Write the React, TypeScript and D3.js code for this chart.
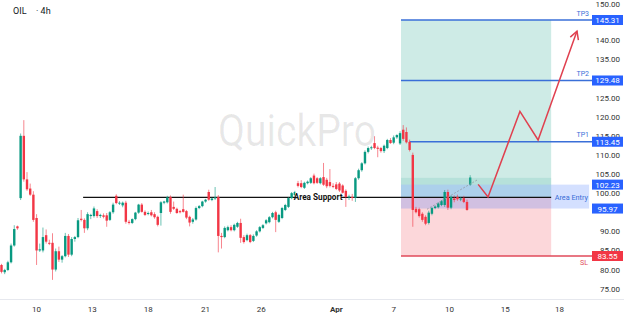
import React from 'react';
import * as d3 from 'd3';

// OHLC rows: [open, high, low, close], 4h bars
const candles: [number, number, number, number][] = [
  [81.2, 81.5, 79.0, 79.4], [79.3, 80.2, 78.8, 79.9], [79.9, 82.3, 79.6, 81.9], [81.9, 86.8, 81.6, 86.3],
  [86.3, 91.6, 86.0, 90.6], [91.3, 91.5, 90.4, 90.8], [98.7, 115.6, 98.2, 115.0], [115.0, 119.1, 103.0, 103.6],
  [103.6, 105.5, 100.6, 101.0], [101.2, 102.5, 99.3, 99.6], [99.6, 100.5, 92.5, 93.0], [93.5, 94.5, 81.2, 85.0],
  [85.0, 86.8, 84.6, 85.3], [85.0, 91.0, 84.5, 88.5], [89.0, 90.5, 86.8, 87.3], [87.0, 87.8, 86.4, 86.8],
  [87.0, 89.5, 77.3, 80.0], [80.0, 85.5, 79.5, 84.8], [84.8, 86.0, 82.0, 82.6], [82.6, 83.8, 81.8, 83.5],
  [83.5, 89.6, 83.2, 88.8], [88.8, 89.3, 83.3, 83.9], [83.9, 88.5, 83.5, 88.0], [88.0, 88.8, 87.3, 88.5],
  [88.5, 93.5, 88.2, 92.9], [93.3, 95.6, 92.6, 93.0], [93.0, 93.4, 89.6, 90.8], [90.8, 95.0, 90.3, 94.5],
  [94.0, 94.6, 93.2, 94.3], [94.0, 96.5, 93.6, 96.0], [95.3, 95.8, 93.5, 94.0], [94.0, 94.6, 93.5, 94.3],
  [94.2, 94.7, 93.4, 93.8], [94.2, 94.8, 91.2, 92.8], [93.0, 95.3, 92.7, 95.0], [95.0, 97.5, 94.6, 97.0],
  [99.3, 99.7, 97.1, 97.4], [97.4, 97.9, 96.9, 97.5], [96.8, 97.8, 96.3, 97.5], [97.5, 98.0, 92.0, 92.5],
  [92.5, 93.0, 91.8, 92.2], [92.2, 93.4, 91.9, 93.2], [93.2, 95.1, 92.9, 94.9], [94.9, 97.2, 94.6, 97.0],
  [97.0, 97.4, 94.9, 95.1], [95.1, 95.5, 94.0, 94.3], [94.6, 95.2, 94.2, 94.8], [95.0, 95.6, 93.9, 94.2],
  [94.5, 95.0, 93.3, 93.7], [93.8, 94.1, 91.3, 91.7], [94.8, 97.9, 91.5, 97.6], [97.5, 98.0, 97.1, 97.8],
  [97.6, 99.3, 97.3, 98.9], [99.0, 99.4, 94.6, 95.1], [96.4, 97.8, 95.6, 95.9], [95.9, 96.2, 94.6, 94.8],
  [95.3, 95.6, 94.7, 95.0], [95.8, 99.6, 94.9, 95.1], [95.3, 95.6, 93.2, 93.6], [93.8, 94.1, 91.3, 92.3],
  [92.5, 93.5, 92.0, 93.1], [93.1, 96.5, 92.8, 96.1], [96.1, 96.9, 95.8, 96.6], [96.6, 98.0, 96.3, 97.8],
  [97.8, 98.5, 97.5, 98.3], [100.3, 100.9, 98.0, 98.3], [98.2, 98.9, 97.9, 98.6], [98.6, 101.6, 98.2, 98.9],
  [99.0, 99.5, 84.5, 88.8], [88.8, 89.6, 85.5, 88.5], [88.5, 91.3, 88.2, 90.9], [90.3, 91.5, 90.0, 91.1],
  [91.1, 91.6, 90.0, 90.3], [90.3, 92.0, 90.0, 91.7], [91.2, 92.5, 90.9, 92.2], [92.2, 93.3, 87.0, 88.3],
  [88.5, 89.0, 86.8, 87.2], [87.7, 89.4, 87.4, 89.0], [89.0, 89.3, 86.9, 87.2], [87.5, 89.2, 87.2, 88.8],
  [88.9, 90.3, 88.6, 90.0], [90.0, 91.4, 89.7, 91.1], [90.9, 91.9, 90.6, 91.6], [92.1, 93.2, 91.8, 92.9],
  [92.4, 94.0, 92.1, 93.7], [93.7, 95.1, 93.4, 94.8], [95.0, 95.4, 89.8, 93.0], [92.5, 94.6, 92.2, 94.3],
  [93.5, 96.4, 93.2, 96.1], [95.6, 97.2, 95.3, 96.9], [96.4, 99.0, 96.1, 98.7], [98.7, 100.3, 98.4, 100.0],
  [99.5, 100.6, 99.2, 100.3], [102.6, 103.2, 101.5, 101.9], [102.6, 103.4, 101.3, 101.6], [101.4, 103.0, 101.1, 102.7],
  [102.6, 103.3, 102.3, 103.0], [102.7, 104.2, 102.4, 103.9], [104.6, 105.1, 102.3, 102.6], [103.9, 104.2, 102.4, 102.7],
  [102.6, 104.2, 102.3, 103.9], [104.2, 107.9, 101.9, 102.2], [103.5, 104.0, 101.3, 101.8], [102.9, 106.3, 101.5, 101.9],
  [101.9, 102.6, 101.3, 101.7], [102.3, 102.9, 100.8, 101.1], [102.5, 102.9, 100.3, 100.7], [102.0, 102.3, 99.9, 100.1],
  [100.6, 101.0, 96.4, 99.0], [98.9, 99.6, 98.2, 99.1], [99.0, 99.8, 98.0, 98.8], [98.8, 104.2, 97.7, 103.9],
  [103.9, 106.4, 103.5, 106.0], [106.0, 108.1, 105.6, 107.8], [107.8, 111.2, 107.5, 110.8], [110.8, 112.2, 110.4, 111.8],
  [111.8, 112.4, 111.3, 112.0], [113.1, 114.9, 111.5, 111.8], [111.9, 112.4, 109.4, 111.6], [111.8, 112.1, 110.6, 111.0],
  [111.0, 112.7, 110.5, 112.4], [111.8, 114.2, 111.5, 113.9], [113.9, 114.4, 112.9, 113.1], [113.2, 115.1, 112.8, 114.6],
  [114.6, 115.4, 114.2, 115.2], [113.0, 116.2, 112.6, 115.7], [116.6, 117.8, 113.7, 114.2], [116.0, 117.2, 113.0, 113.3],
  [113.4, 114.0, 110.9, 111.3], [110.0, 110.6, 91.2, 95.6], [95.9, 96.4, 94.7, 95.0], [95.8, 96.2, 93.6, 94.0],
  [94.6, 95.0, 92.5, 93.0], [93.8, 94.2, 91.6, 92.0], [92.2, 95.4, 91.8, 94.9], [94.6, 96.4, 94.2, 96.1],
  [96.1, 96.8, 95.8, 96.5], [96.3, 97.6, 96.0, 97.3], [96.9, 98.2, 96.6, 97.9], [96.9, 100.8, 96.4, 100.3],
  [100.3, 100.9, 95.6, 96.2], [96.2, 99.4, 95.8, 99.0], [98.6, 99.4, 97.6, 98.2], [99.0, 99.6, 98.0, 98.4],
  [98.4, 99.0, 97.9, 98.6], [98.7, 99.3, 97.4, 97.7], [97.7, 98.3, 95.4, 95.6],
];

// projected (ghost) bar and dotted projection path
const projIndex = 147;
const projCandle: [number, number, number, number] = [102.2, 104.7, 101.9, 104.1];
const projPath: [number, number][] = [[133.5, 95.8], [149.5, 103.6]];

// forecast zigzag (bar index, price)
const zigzag: [number, number][] = [[149.5, 102.3], [152.6, 99.0], [162.6, 121.4], [168.3, 113.9], [180.5, 142.4]];

const tickIdx = [11, 28.5, 46, 64, 81.5, 105, 123, 140.5, 158, 175];
const tickLbl = ['10', '13', '18', '21', '26', 'Apr', '7', '10', '15', '18'];

const yTicks = [75, 80, 85, 90, 95, 100, 105, 110, 115, 120, 125, 130, 135, 140, 145, 150];

const tp3 = 145.31, tp2 = 129.48, tp1 = 113.45;
const entryHi = 102.23, entryLo = 95.97, sl = 83.55, supportLevel = 98.9;
const posStart = 125.3, posEnd = 172.4, entryBoxEnd = 184.3, tp1Start = 128;
const supportStart = 25.6, supportLabelAt = 99.3;
const zoneHi = 104.0;

const GREEN = '#089981';
const RED = '#f23645';
const BLUE = '#2962ff';
const FONT = 'Roboto, "Noto Sans", sans-serif';

export default function App() {
  const W = 624, H = 316;
  const plotRight = 592;
  const x = d3.scaleLinear().domain([0, 146]).range([1.5, 467]);
  const y = d3.scaleLinear().domain([sl, tp3]).range([256, 20]);
  const bw = 2.4;

  const line = d3.line<[number, number]>().x((d) => x(d[0])).y((d) => y(d[1]));

  // arrow head at end of zigzag
  const a = zigzag[zigzag.length - 2], b = zigzag[zigzag.length - 1];
  const tx = x(b[0]), ty = y(b[1]);
  const ang = Math.atan2(y(a[1]) - ty, x(a[0]) - tx);
  const ah = 9, spread = 0.5;
  const arm1 = [tx + ah * Math.cos(ang + spread), ty + ah * Math.sin(ang + spread)];
  const arm2 = [tx + ah * Math.cos(ang - spread), ty + ah * Math.sin(ang - spread)];

  const badges = [
    { v: tp3, c: BLUE }, { v: tp2, c: BLUE }, { v: tp1, c: BLUE },
    { v: entryHi, c: BLUE }, { v: entryLo, c: BLUE }, { v: sl, c: RED },
  ];
  // tick labels fully hidden behind a price badge are not drawn
  const visibleTicks = yTicks.filter((v) => badges.every((bd) => Math.abs(y(v) - y(bd.v)) > 4.5));

  const drawCandle = (d: [number, number, number, number], i: number, ghost = false) => {
    const [o, h, l, c] = d;
    const up = c >= o;
    const col = up ? GREEN : RED;
    const cx = x(i);
    const top = y(Math.max(o, c));
    const bot = y(Math.min(o, c));
    return (
      <g key={(ghost ? 'g' : 'c') + i} opacity={ghost ? 0.85 : 1}>
        <line x1={cx} x2={cx} y1={y(h)} y2={y(l)} stroke={col} strokeOpacity={0.6} strokeWidth={1} />
        <rect x={cx - bw / 2} y={top} width={bw} height={Math.max(1, bot - top)} fill={col} />
      </g>
    );
  };

  return (
    <svg width={W} height={H} style={{ position: 'absolute', left: 0, top: 0, background: '#fff' }} fontFamily={FONT}>
      <rect x={0} y={0} width={W} height={H} fill="#fff" />

      {/* watermark */}
      <text x={297} y={146} textAnchor="middle" fontSize={44} fill="#000" fillOpacity={0.09} textLength={158} lengthAdjust="spacingAndGlyphs">QuickPro</text>

      {/* position zones */}
      <rect x={x(posStart)} y={y(tp3)} width={x(posEnd) - x(posStart)} height={y(supportLevel) - y(tp3)} fill="rgb(8,153,129)" fillOpacity={0.2} />
      <rect x={x(posStart)} y={y(supportLevel)} width={x(posEnd) - x(posStart)} height={y(sl) - y(supportLevel)} fill={RED} fillOpacity={0.2} />
      <rect x={x(posStart)} y={y(zoneHi)} width={x(posEnd) - x(posStart)} height={y(entryHi) - y(zoneHi)} fill="rgb(8,153,129)" fillOpacity={0.12} />
      <rect x={x(posStart)} y={y(entryHi)} width={x(entryBoxEnd) - x(posStart)} height={y(entryLo) - y(entryHi)} fill={BLUE} fillOpacity={0.2} />

      {/* target / stop lines */}
      {[tp3, tp2].map((v) => (
        <line key={v} x1={x(posStart)} x2={plotRight} y1={y(v)} y2={y(v)} stroke="#3a6fd8" strokeWidth={1.6} />
      ))}
      <line x1={x(tp1Start)} x2={plotRight} y1={y(tp1)} y2={y(tp1)} stroke="#3a6fd8" strokeWidth={1.6} />
      <line x1={x(posStart)} x2={plotRight} y1={y(sl)} y2={y(sl)} stroke="#e04a5a" strokeWidth={1.4} />

      {/* support line */}
      <line x1={x(supportStart)} x2={x(posEnd)} y1={y(supportLevel)} y2={y(supportLevel)} stroke="#111" strokeWidth={1.3} />

      {/* candles */}
      {candles.map((d, i) => drawCandle(d, i))}
      {drawCandle(projCandle, projIndex, true)}
      <path d={line(projPath) || ''} fill="none" stroke="#9598a1" strokeWidth={1} strokeDasharray="1.5,2" />

      {/* area support label */}
      <rect x={x(supportLabelAt) - 23} y={y(supportLevel) - 5} width={46} height={10} fill="#fff" />
      <text x={x(supportLabelAt)} y={y(supportLevel) + 3} textAnchor="middle" fontSize={8.2} fontWeight="bold" fill="#111">Area Support</text>

      {/* zigzag forecast */}
      <path d={line(zigzag) || ''} fill="none" stroke="#e0404f" strokeWidth={1.5} strokeLinejoin="miter" />
      <path d={`M${arm1[0]},${arm1[1]}L${tx},${ty}L${arm2[0]},${arm2[1]}`} fill="none" stroke="#e0404f" strokeWidth={1.5} />

      {/* zone labels */}
      <text x={589} y={y(tp3) - 4} textAnchor="end" fontSize={7} fill="#3a6fd8">TP3</text>
      <text x={589} y={y(tp2) - 4.5} textAnchor="end" fontSize={7} fill="#3a6fd8">TP2</text>
      <text x={589} y={y(tp1) - 4.5} textAnchor="end" fontSize={7} fill="#3a6fd8">TP1</text>
      <text x={588} y={y(sl) + 9} textAnchor="end" fontSize={7} fill="#e04a5a">SL</text>
      <text x={588} y={(y(entryHi) + y(entryLo)) / 2 + 3} textAnchor="end" fontSize={7.3} fill="#3a6fd8">Area Entry</text>

      {/* y axis */}
      {visibleTicks.map((v) => (
        <text key={v} x={620} y={Math.max(7, y(v) + 3)} textAnchor="end" fontSize={8} fill="#333">{v.toFixed(2)}</text>
      ))}
      {badges.map((bd) => (
        <g key={bd.v}>
          <rect x={592} y={y(bd.v) - 5} width={31} height={10} fill={bd.c} />
          <text x={607.5} y={y(bd.v) + 3} textAnchor="middle" fontSize={8} fill="#fff">{bd.v.toFixed(2)}</text>
        </g>
      ))}

      {/* x axis */}
      <line x1={0} x2={W} y1={299.5} y2={299.5} stroke="#e6e8ee" strokeWidth={1} />
      {tickIdx.map((t, i) => (
        <text key={i} x={x(t)} y={312} textAnchor="middle" fontSize={8} fill="#333" fontWeight={tickLbl[i] === 'Apr' ? 'bold' : 'normal'}>{tickLbl[i]}</text>
      ))}

      {/* title */}
      <text x={13} y={13.5} fontSize={9} fill="#131722">OIL</text>
      <text x={36} y={13.5} fontSize={9} fill="#131722">· 4h</text>
    </svg>
  );
}
